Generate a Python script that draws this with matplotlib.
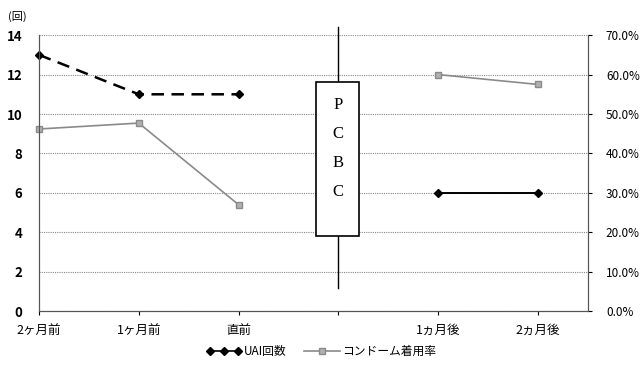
import matplotlib.pyplot as plt
from matplotlib.lines import Line2D
from matplotlib.legend_handler import HandlerLine2D
from matplotlib.ticker import FuncFormatter

plt.rcParams['font.family'] = ['Noto Sans CJK JP', 'DejaVu Sans']

# data
cats = ['2ヶ月前', '1ヶ月前', '直前', '', '1ヵ月後', '2ヵ月後']
uai = [13, 11, 11, None, 6, 6]              # 回
condom = [46.2, 47.7, 27.0, None, 60.0, 57.5]  # %
pcbc = ['P', 'C', 'B', 'C']

fig = plt.figure(figsize=(6.42, 3.74), dpi=100)
ax = fig.add_axes([0.0607, 0.168, 0.855, 0.738])
ax2 = ax.twinx()

x = list(range(len(cats)))

# UAI: before PCBC (dashed), after (solid)
ax.plot(x[0:3], uai[0:3], color='black', lw=1.8, ls=(0, (5, 3)),
        marker='D', ms=4, zorder=5, clip_on=False)
ax.plot(x[4:6], uai[4:6], color='black', lw=1.4, ls='-',
        marker='D', ms=4, zorder=5)

# condom rate on right axis
ax2.plot(x[0:3], condom[0:3], color='#8a8a8a', lw=1.2,
         marker='s', ms=4, mfc='#b0b0b0', mec='#8a8a8a', clip_on=False)
ax2.plot(x[4:6], condom[4:6], color='#8a8a8a', lw=1.2,
         marker='s', ms=4, mfc='#b0b0b0', mec='#8a8a8a')

ax.set_xlim(0, 5.5)
ax.set_ylim(0, 14)
ax.set_yticks(range(0, 15, 2))
ax2.set_ylim(0, 70)
ax2.set_yticks(range(0, 71, 10))
ax2.yaxis.set_major_formatter(FuncFormatter(lambda v, p: f'{v:.1f}%'))

ax.set_xticks(x)
ax.set_xticklabels(cats, fontsize=9)
ax.tick_params(axis='x', length=3, pad=6)
ax.tick_params(axis='y', length=0, labelsize=9.5, pad=12)
ax2.tick_params(axis='y', length=3, labelsize=8.5, pad=10)
for lab in ax.get_yticklabels():
    lab.set_fontweight('bold')

ax.grid(axis='y', color='#888888', lw=0.8, ls=(0, (1, 1)))
for s in ['top']:
    ax.spines[s].set_visible(False)
    ax2.spines[s].set_visible(False)
for a in (ax, ax2):
    a.spines['left'].set_color('#555555')
    a.spines['right'].set_color('#555555')
    a.spines['bottom'].set_color('#555555')
    a.spines['left'].set_linestyle((0, (1, 1)))
    a.spines['right'].set_linestyle((0, (1, 1)))

# PCBC marker
ax.plot([3, 3], [1.2, 14.4], color='black', lw=1.0, clip_on=False, zorder=6)
ax.add_patch(plt.Rectangle((2.78, 3.8), 0.43, 7.8, facecolor='white',
                           edgecolor='black', lw=1.2, zorder=7))
for i, ch in enumerate(pcbc):
    ax.text(3, 10.45 - i * 1.47, ch, ha='center', va='center', fontsize=12,
            family='Liberation Serif', zorder=8)

fig.text(0.012, 0.955, '(回)', fontsize=8, ha='left', va='center')

h1 = Line2D([], [], color='black', lw=1.2, marker='D', ms=4)
h2 = Line2D([], [], color='#8a8a8a', lw=1.2, marker='s', ms=4,
            mfc='#b0b0b0', mec='#8a8a8a')
fig.legend([h1, h2], ['UAI回数', 'コンドーム着用率'], loc='center',
           bbox_to_anchor=(0.5, 0.06), ncol=2, frameon=False, fontsize=8.5,
           handlelength=3, columnspacing=1.5, handletextpad=0.2,
           handler_map={h1: HandlerLine2D(numpoints=3)})

fig.savefig('out.png', dpi=100)
